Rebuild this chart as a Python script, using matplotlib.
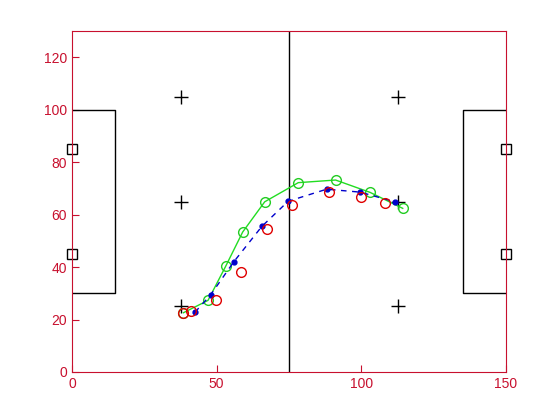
import matplotlib
matplotlib.use("Agg")
import matplotlib.pyplot as plt

# field furniture
center_x = 75
left_box_x = [0, 15, 15, 0]
right_box_x = [150, 135, 135, 150]
box_y = [100, 100, 30, 30]
plus_x = [37.5, 37.5, 37.5, 112.5, 112.5, 112.5]
plus_y = [105, 65, 25, 105, 65, 25]
square_x = [0, 0, 150, 150]
square_y = [85, 45, 85, 45]

# trajectories
green_x = [38.5, 47.0, 53.1, 59.0, 66.6, 78.2, 91.1, 103.0, 114.3]
green_y = [22.6, 27.3, 40.3, 53.4, 64.9, 72.2, 73.2, 68.5, 62.4]
blue_x = [42.5, 47.9, 55.9, 65.6, 74.7, 88.0, 99.5, 111.6]
blue_y = [22.8, 29.4, 42.0, 55.5, 65.1, 69.7, 68.6, 64.9]
red_x = [38.4, 41.0, 49.9, 58.5, 67.5, 76.2, 88.9, 99.9, 108.3]
red_y = [22.4, 23.4, 27.3, 38.0, 54.4, 63.6, 68.7, 66.6, 64.5]

axis_red = '#c8102e'

fig = plt.figure(figsize=(5.6, 4.2), dpi=100)
ax = fig.add_axes([0.1286, 0.1143, 0.775, 0.8117])

ax.plot([center_x, center_x], [0, 130], color='black', linewidth=1)
ax.plot(left_box_x, box_y, color='black', linewidth=1)
ax.plot(right_box_x, box_y, color='black', linewidth=1)
ax.plot(plus_x, plus_y, linestyle='none', marker='+', markersize=10,
        color='black', markeredgewidth=1)
ax.plot(square_x, square_y, linestyle='none', marker='s', markersize=6.5,
        markerfacecolor='none', markeredgecolor='black', markeredgewidth=1,
        clip_on=False)

ax.plot(green_x, green_y, color='#22dd22', linewidth=1, marker='o',
        markersize=7, markerfacecolor='none', markeredgecolor='#22cc22')
ax.plot(blue_x, blue_y, color='#0000cc', linewidth=1, linestyle=(0, (4, 4)),
        marker='.', markersize=7)
ax.plot(red_x, red_y, linestyle='none', marker='o', markersize=7,
        markerfacecolor='none', markeredgecolor='#e00000')

ax.set_xlim(0, 150)
ax.set_ylim(0, 130)
ax.set_xticks([0, 50, 100, 150])
ax.set_yticks([0, 20, 40, 60, 80, 100, 120])
for s in ax.spines.values():
    s.set_color(axis_red)
ax.tick_params(direction='in', length=5, colors=axis_red, labelsize=10,
               labelfontfamily='Liberation Sans')

fig.savefig('out.png', dpi=100)
